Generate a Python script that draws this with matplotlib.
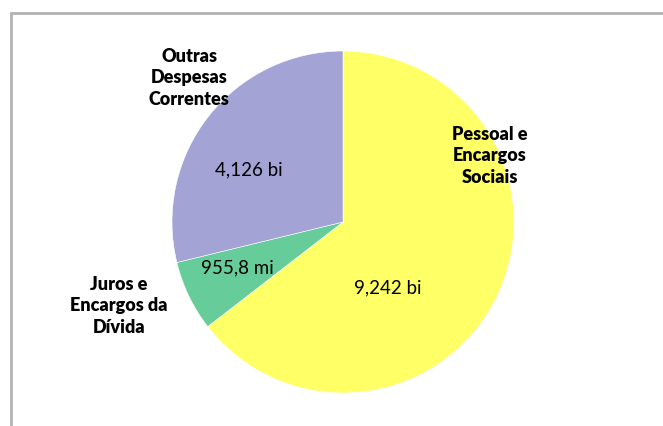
import matplotlib
matplotlib.use("Agg")
import matplotlib.pyplot as plt
from matplotlib.patches import Rectangle

# despesas (em bilhões)
categories = ["Pessoal e\nEncargos\nSociais", "Juros e\nEncargos da\nDívida", "Outras\nDespesas\nCorrentes"]
values = [9.242, 0.9558, 4.126]
value_labels = ["9,242 bi", "955,8 mi", "4,126 bi"]
colors = ["#FFFF66", "#66CC99", "#A3A3D6"]

plt.rcParams['font.family'] = ['Lato', 'DejaVu Sans']

fig = plt.figure(figsize=(6.63, 4.26), dpi=100)
ax = fig.add_axes([0, 0, 1, 1])

# gray frame, top and left
ax.add_patch(Rectangle((10.5, -20), 700, 433, fill=False, edgecolor='#b3b3b3', linewidth=2))

ax.pie(values, colors=colors, startangle=90, counterclock=False,
       center=(343, 204), radius=171, frame=True,
       wedgeprops=dict(linewidth=0.4, edgecolor='white'))
ax.set_xlim(0, 663)
ax.set_ylim(0, 426)
ax.set_aspect('equal')
ax.axis('off')

cat_pos = [(490, 270), (119, 120), (189, 348)]
val_pos = [(388, 138), (237, 158), (249, 256)]
for lab, (x, y) in zip(categories, cat_pos):
    ax.text(x, y, lab, ha='center', va='center', fontsize=13, fontweight='heavy',
            linespacing=1.3)
for lab, (x, y) in zip(value_labels, val_pos):
    ax.text(x, y, lab, ha='center', va='center', fontsize=13.5)

fig.savefig("out.png", dpi=100)
